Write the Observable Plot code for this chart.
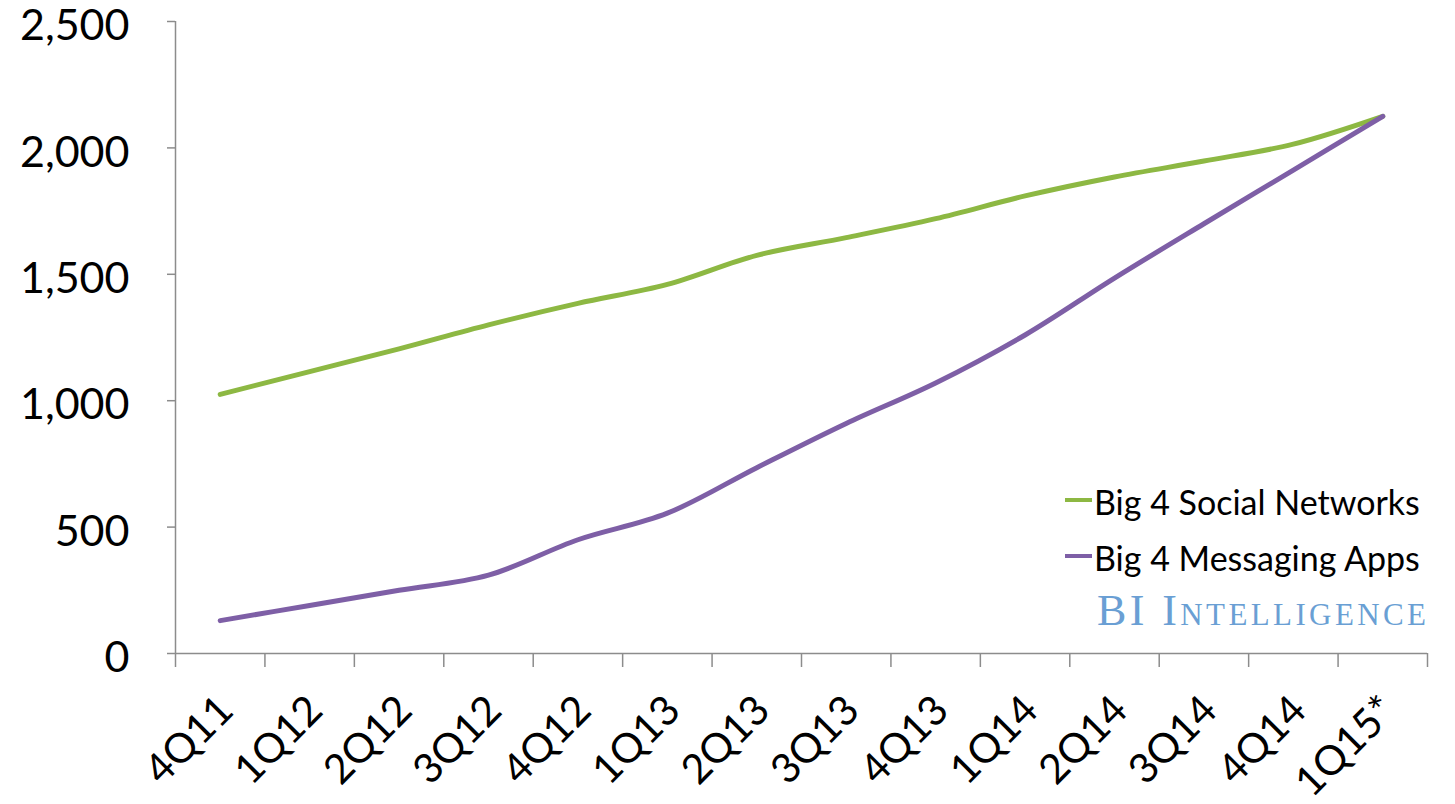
<!DOCTYPE html>
<html>
<head>
<meta charset="utf-8">
<script src="https://cdn.jsdelivr.net/npm/d3@7"></script>
<script src="https://cdn.jsdelivr.net/npm/@observablehq/plot@0.6"></script>
<style>
  html, body { margin: 0; padding: 0; background: #fff; }
  #wrap { position: relative; width: 1455px; height: 804px; font-family: Lato, "Open Sans", sans-serif; }
  .legend { position: absolute; left: 1065px; font-size: 34px; line-height: 40px; color: #000; display: flex; align-items: center; }
  .sw { display: inline-block; width: 27px; height: 4px; margin-right: 2px; position: relative; top: -2px; }
  .brand { position: absolute; left: 1097px; top: 586px; font-family: "Liberation Serif", "DejaVu Serif", serif; font-variant: small-caps; font-size: 44px; line-height: 50px; color: #6a9fd4; letter-spacing: 3.4px; }
</style>
</head>
<body>
<div id="wrap"></div>
<script>
const quarters = ["4Q11","1Q12","2Q12","3Q12","4Q12","1Q13","2Q13","3Q13","4Q13","1Q14","2Q14","3Q14","4Q14","1Q15*"];
const socialNetworks = [1025, 1115, 1205, 1300, 1385, 1460, 1575, 1645, 1720, 1810, 1885, 1948, 2015, 2125];
const messagingApps = [130, 190, 250, 310, 450, 555, 735, 910, 1070, 1260, 1485, 1700, 1912, 2125];
const seriesNames = ["Big 4 Social Networks", "Big 4 Messaging Apps"];
const seriesColors = ["#8db843", "#7e5fa6"];
const yTicks = [0, 500, 1000, 1500, 2000, 2500];

const data = [];
quarters.forEach((q, i) => {
  data.push({series: seriesNames[0], i: i + 0.5, value: socialNetworks[i]});
  data.push({series: seriesNames[1], i: i + 0.5, value: messagingApps[i]});
});
const centers = quarters.map((q, i) => i + 0.5);
const edges = d3.range(quarters.length + 1);

const chart = Plot.plot({
  width: 1455,
  height: 804,
  marginLeft: 175,
  marginRight: 28,
  marginTop: 21,
  marginBottom: 151,
  style: {fontFamily: "Lato, 'Open Sans', sans-serif", background: "#fff", color: "#000"},
  x: {type: "linear", domain: [0, quarters.length]},
  y: {domain: [0, 2500]},
  color: {domain: seriesNames, range: seriesColors},
  marks: [
    Plot.axisY({ticks: yTicks, tickFormat: () => "", tickSize: 8, stroke: "#8c8c8c", strokeWidth: 1.5, label: null}),
    Plot.axisY({ticks: yTicks, tickFormat: d3.format(","), tickSize: 0, tickPadding: 46, fontSize: 43, dy: 5, color: "#000", label: null}),
    Plot.axisX({ticks: edges, tickFormat: () => "", tickSize: 14, stroke: "#8c8c8c", strokeWidth: 1.5, label: null}),
    Plot.axisX({ticks: centers, tickFormat: (d) => quarters[Math.round(d - 0.5)], tickSize: 0, tickRotate: -45, fontSize: 41, tickPadding: 50, dx: 6, color: "#000", label: null}),
    Plot.ruleX([0], {y1: 0, y2: 2500, stroke: "#8c8c8c", strokeWidth: 1.5}),
    Plot.ruleY([0], {stroke: "#8c8c8c", strokeWidth: 1.5}),
    Plot.line(data, {x: "i", y: "value", z: "series", stroke: "series", strokeWidth: 5, curve: "catmull-rom", strokeLinecap: "round"})
  ]
});

const wrap = document.getElementById("wrap");
wrap.appendChild(chart);

seriesNames.forEach((name, k) => {
  const div = document.createElement("div");
  div.className = "legend";
  div.style.top = (482 + k * 56) + "px";
  div.innerHTML = `<span class="sw" style="background:${seriesColors[k]}"></span><span>${name}</span>`;
  wrap.appendChild(div);
});
const brand = document.createElement("div");
brand.className = "brand";
brand.textContent = "BI Intelligence";
wrap.appendChild(brand);
</script>
</body>
</html>
